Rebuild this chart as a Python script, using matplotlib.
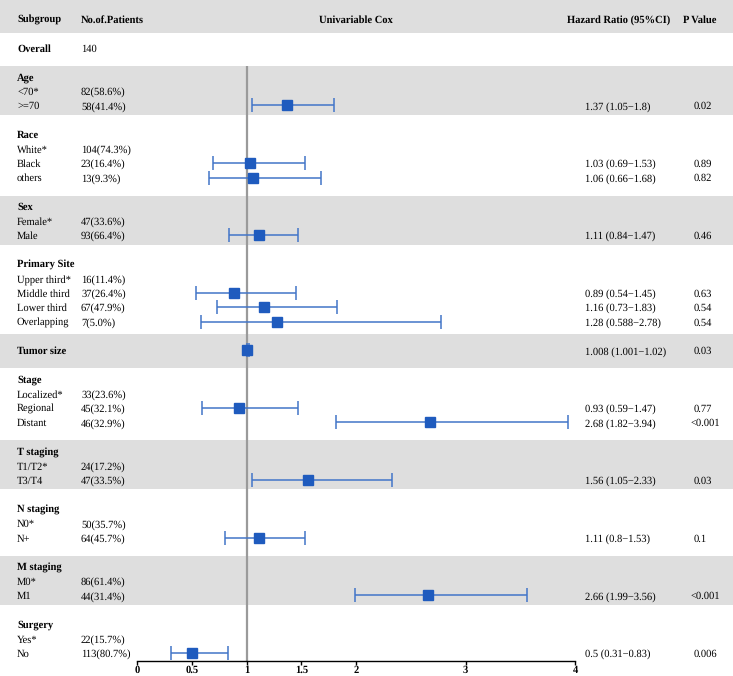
import numpy as np
import matplotlib

matplotlib.use("Agg")
import matplotlib.pyplot as plt

plt.rcParams["font.family"] = ["Liberation Serif", "DejaVu Serif"]
plt.rcParams["text.hinting"] = "no_hinting"

# one entry per table row; headings are bold, "" means no value
row_labels = [
    "Overall",
    "Age", "<70*", ">=70",
    "Race", "White*", "Black", "others",
    "Sex", "Female*", "Male",
    "Primary Site", "Upper third*", "Middle third", "Lower third", "Overlapping",
    "Tumor size",
    "Stage", "Localized*", "Regional", "Distant",
    "T staging", "T1/T2*", "T3/T4",
    "N staging", "N0*", "N+",
    "M staging", "M0*", "M1",
    "Surgery", "Yes*", "No",
]
group_heads = ["Overall", "Age", "Race", "Sex", "Primary Site", "Tumor size",
               "Stage", "T staging", "N staging", "M staging", "Surgery"]
shaded_groups = ["Age", "Sex", "Tumor size", "T staging", "M staging"]
patients = [
    "140",
    "", "82(58.6%)", "58(41.4%)",
    "", "104(74.3%)", "23(16.4%)", "13(9.3%)",
    "", "47(33.6%)", "93(66.4%)",
    "", "16(11.4%)", "37(26.4%)", "67(47.9%)", "7(5.0%)",
    "",
    "", "33(23.6%)", "45(32.1%)", "46(32.9%)",
    "", "24(17.2%)", "47(33.5%)",
    "", "50(35.7%)", "64(45.7%)",
    "", "86(61.4%)", "44(31.4%)",
    "", "22(15.7%)", "113(80.7%)",
]
nan = np.nan
hr = [nan,
      nan, nan, 1.37,
      nan, nan, 1.03, 1.06,
      nan, nan, 1.11,
      nan, nan, 0.89, 1.16, 1.28,
      1.008,
      nan, nan, 0.93, 2.68,
      nan, nan, 1.56,
      nan, nan, 1.11,
      nan, nan, 2.66,
      nan, nan, 0.5]
ci_low = [nan,
          nan, nan, 1.05,
          nan, nan, 0.69, 0.66,
          nan, nan, 0.84,
          nan, nan, 0.54, 0.73, 0.588,
          1.001,
          nan, nan, 0.59, 1.82,
          nan, nan, 1.05,
          nan, nan, 0.8,
          nan, nan, 1.99,
          nan, nan, 0.31]
ci_high = [nan,
           nan, nan, 1.8,
           nan, nan, 1.53, 1.68,
           nan, nan, 1.47,
           nan, nan, 1.45, 1.83, 2.78,
           1.02,
           nan, nan, 1.47, 3.94,
           nan, nan, 2.33,
           nan, nan, 1.53,
           nan, nan, 3.56,
           nan, nan, 0.83]
hr_text = ["",
           "", "", "1.37 (1.05\u22121.8)",
           "", "", "1.03 (0.69\u22121.53)", "1.06 (0.66\u22121.68)",
           "", "", "1.11 (0.84\u22121.47)",
           "", "", "0.89 (0.54\u22121.45)", "1.16 (0.73\u22121.83)", "1.28 (0.588\u22122.78)",
           "1.008 (1.001\u22121.02)",
           "", "", "0.93 (0.59\u22121.47)", "2.68 (1.82\u22123.94)",
           "", "", "1.56 (1.05\u22122.33)",
           "", "", "1.11 (0.8\u22121.53)",
           "", "", "2.66 (1.99\u22123.56)",
           "", "", "0.5 (0.31\u22120.83)"]
p_values = ["",
            "", "", "0.02",
            "", "", "0.89", "0.82",
            "", "", "0.46",
            "", "", "0.63", "0.54", "0.54",
            "0.03",
            "", "", "0.77", "<0.001",
            "", "", "0.03",
            "", "", "0.1",
            "", "", "<0.001",
            "", "", "0.006"]
x_ticks = [0, 0.5, 1, 1.5, 2, 3, 4]

W, H = 733, 676
ROW0, STEP = 19.0, 14.41          # pixel y of header row, row spacing
BAND = "#DEDEDE"
BLUE = "#1F5BBE"
FS = 7.6

# row index of each table line (blank line between groups)
rows = []
r = 1
for lab in row_labels:
    if lab in group_heads:
        r += 1
    rows.append(r)
    r += 1
rows = np.array(rows, dtype=float)

fig = plt.figure(figsize=(W / 100, H / 100), dpi=100)
bg = fig.add_axes([0, 0, 1, 1])
bg.set_xlim(0, W)
bg.set_ylim((H - ROW0) / STEP, -ROW0 / STEP)
bg.axis("off")

# header band and group bands
bg.axhspan(-ROW0 / STEP, 0.97, color=BAND, lw=0)
for g in shaded_groups:
    i = row_labels.index(g)
    j = i
    while j + 1 < len(row_labels) and row_labels[j + 1] not in group_heads:
        j += 1
    if i == j:
        bg.axhspan(rows[i] - 1.15, rows[i] + 1.2, color=BAND, lw=0)
    else:
        bg.axhspan(rows[i] - 0.75, rows[j] + 0.65, color=BAND, lw=0)

VA = "center_baseline"
hdr = dict(fontsize=FS, fontweight="bold", va=VA)
bg.text(17, 0, "Subgroup", **hdr)
bg.text(81, 0, "No.of.Patients", **hdr)
bg.text(356, 0, "Univariable Cox", ha="center", **hdr)
bg.text(567, 0, "Hazard Ratio (95%CI)", **hdr)
bg.text(683, 0, "P Value", **hdr)

for k, lab in enumerate(row_labels):
    y = rows[k]
    bold = lab in group_heads
    bg.text(17, y, lab, fontsize=FS, va=VA,
            fontweight="bold" if bold else "normal")
    if patients[k]:
        bg.text(81, y, patients[k], fontsize=FS, va=VA)
    if hr_text[k]:
        bg.text(585, y, hr_text[k], fontsize=FS, va=VA)
    if p_values[k]:
        px = 690 if p_values[k].startswith("<") else 694
        bg.text(px, y, p_values[k], fontsize=FS, va=VA)

# forest panel
px_left, px_right = 137, 575
px_top, px_axis = 66, 661
ax = fig.add_axes([px_left / W, (H - px_axis) / H,
                   (px_right - px_left) / W, (px_axis - px_top) / H])
ax.patch.set_alpha(0)
ax.set_xlim(0, 4)
ax.set_ylim((px_axis - ROW0) / STEP, (px_top - ROW0) / STEP)
ax.axvline(1, color="#9A9A9A", lw=1.6, zorder=1)

hr_a = np.array(hr)
lo_a = np.array(ci_low)
hi_a = np.array(ci_high)
m = ~np.isnan(hr_a)
ax.errorbar(hr_a[m], rows[m], xerr=[hr_a[m] - lo_a[m], hi_a[m] - hr_a[m]],
            fmt="s", color=BLUE, ecolor="#4275C8", elinewidth=1.1,
            capsize=5, capthick=1.1, markersize=6.5, zorder=3)

for side in ("top", "left", "right"):
    ax.spines[side].set_visible(False)
ax.spines["bottom"].set_linewidth(1.0)
ax.set_yticks([])
ax.set_xticks(x_ticks)
ax.set_xticklabels([f"{t:g}" for t in x_ticks], fontweight="bold", fontsize=7.6)
ax.tick_params(axis="x", length=3, width=1, pad=0.3)

fig.savefig("out.png", dpi=100)
